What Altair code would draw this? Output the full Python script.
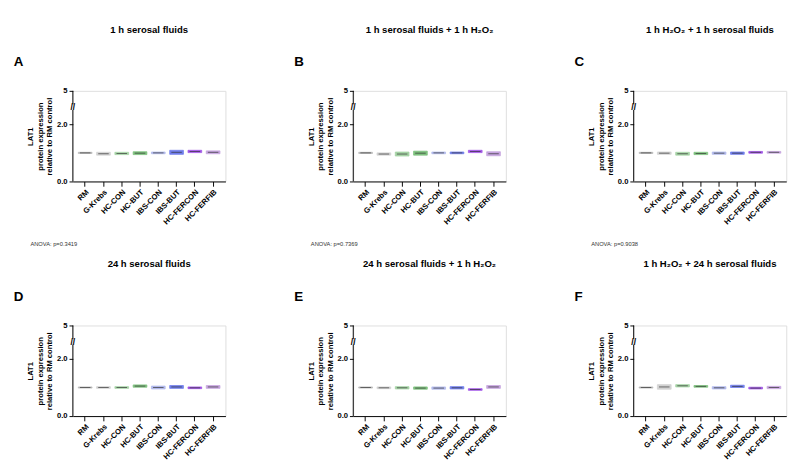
import altair as alt
import pandas as pd

groups = ["RM","G-Krebs","HC-CON","HC-BUT","IBS-CON","IBS-BUT","HC-FERCON","HC-FERFIB"]
colors = ["#a9a9a9","#c8c8c8","#8fc98f","#5fb35f","#9fa8e8","#4d5ee8","#8a2be2","#b98fd8"]
titles = ["1 h serosal fluids","1 h serosal fluids + 1 h H₂O₂","1 h H₂O₂ + 1 h serosal fluids",
          "24 h serosal fluids","24 h serosal fluids + 1 h H₂O₂","1 h H₂O₂ + 24 h serosal fluids"]
letters = ["A","B","C","D","E","F"]
anova = ["ANOVA: p=0.3419","ANOVA: p=0.7369","ANOVA: p=0.9038","ANOVA: p=0.4962","ANOVA: p=0.7632","ANOVA: p=0.6243"]
means = [
    [1.00,0.97,0.98,0.99,1.00,1.02,1.05,1.02],
    [1.00,0.96,0.96,0.99,1.00,1.00,1.05,0.97],
    [1.00,0.99,0.97,0.98,0.99,0.99,1.02,1.02],
    [1.00,1.00,1.00,1.05,1.00,1.02,0.99,1.02],
    [1.00,0.99,0.99,0.98,0.98,0.99,0.93,1.02],
    [1.00,1.02,1.06,1.04,0.99,1.04,0.98,1.00],
]
spread = [
    [0.02,0.05,0.04,0.05,0.03,0.07,0.04,0.05],
    [0.02,0.04,0.07,0.07,0.03,0.03,0.04,0.07],
    [0.02,0.04,0.05,0.04,0.04,0.04,0.03,0.03],
    [0.02,0.03,0.03,0.04,0.05,0.05,0.03,0.05],
    [0.02,0.03,0.04,0.04,0.04,0.04,0.03,0.05],
    [0.02,0.08,0.04,0.03,0.04,0.04,0.03,0.04],
]
tick_vals = [0,0.5,1.0,1.5,2.0,2.5,2.7,2.93,3.17]
label_expr = "datum.value==2.7?'3':datum.value==2.93?'4':datum.value==3.17?'5':format(datum.value,'.1f')"

def panel(i):
    df = pd.DataFrame({"g":groups,"m":means[i],"lo":[a-b for a,b in zip(means[i],spread[i])],
                       "hi":[a+b for a,b in zip(means[i],spread[i])]})
    x = alt.X("g:N", sort=groups, scale=alt.Scale(paddingInner=0.25, paddingOuter=0.3),
              axis=alt.Axis(labelAngle=-45, labelFontSize=8, labelFontWeight="bold", labelColor="black",
                            title=anova[i], titleAnchor="start", titleX=-45, titleY=62,
                            titleFontSize=6, titleFontWeight="normal", titleColor="#333",
                            ticks=True, domainColor="black", tickColor="black", labelPadding=2))
    y = alt.Y("lo:Q", scale=alt.Scale(domain=[0,3.17], nice=False),
              axis=alt.Axis(values=tick_vals, labelExpr=label_expr, domain=False, grid=False,
                            labelOverlap=False, labelFontSize=8, labelFontWeight="bold", labelColor="black",
                            tickColor="black", tickSize=4,
                            title=["LAT1","protein expression","relative to RM control"],
                            titleFontSize=8, titleFontWeight="bold", titleColor="black", titlePadding=3))
    box = alt.Chart(df).mark_bar(opacity=0.8, strokeWidth=0.8).encode(
        x=x, y=y, y2="hi:Q",
        color=alt.Color("g:N", sort=groups, scale=alt.Scale(domain=groups, range=colors), legend=None),
        stroke=alt.Color("g:N", sort=groups, scale=alt.Scale(domain=groups, range=colors), legend=None))
    mline = alt.Chart(df).mark_tick(color="#333", thickness=1, size=11).encode(x=alt.X("g:N", sort=groups), y="m:Q")
    seg = pd.DataFrame({"a":[0,2.7],"b":[2.5,3.17]})
    rules = alt.Chart(seg).mark_rule(color="black").encode(x=alt.value(0), y="a:Q", y2="b:Q")
    slash = alt.Chart(pd.DataFrame({"t":["//"],"v":[2.6]})).mark_text(fontSize=9, fontWeight="bold").encode(
        x=alt.value(0), y="v:Q", text="t:N")
    letter = alt.Chart(pd.DataFrame({"t":[letters[i]]})).mark_text(fontSize=14, fontWeight="bold", align="left").encode(
        x=alt.value(-62), y=alt.value(-30), text="t:N")
    return alt.layer(box, mline, rules, slash, letter).properties(
        width=160, height=95,
        title=alt.TitleParams(titles[i], fontSize=10, fontWeight="bold", offset=22))

rows = [alt.hconcat(*[panel(r*3+c) for c in range(3)], spacing=70) for r in range(2)]
chart = alt.vconcat(*rows, spacing=12).configure_view(stroke=None).configure(
    font="Liberation Sans", padding={"left":5,"top":5,"right":5,"bottom":5})
chart.save("out.html", embed_options={"renderer": "svg", "actions": False})
